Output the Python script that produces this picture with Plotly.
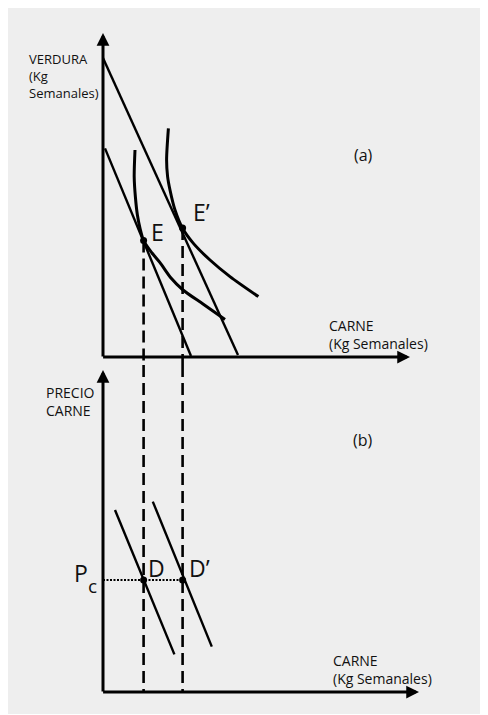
import plotly.graph_objects as go

# ---------------- data (units: carne kg, verdura kg, price) ----------------
# Panel (a): budget lines (endpoints) and indifference curves
budget_outer_x = [0.0, 6.75]
budget_outer_y = [14.95, 0.1]
budget_inner_x = [0.1, 4.4]
budget_inner_y = [10.43, 0.05]

ic1_x = [1.60, 1.56, 1.62, 1.72, 1.86, 2.03, 2.45, 2.85, 3.40, 4.00, 5.00, 6.10]
ic1_y = [10.35, 9.00, 8.00, 7.10, 6.40, 5.82, 5.20, 4.72, 3.95, 3.35, 2.65, 1.88]
ic2_x = [3.27, 3.18, 3.23, 3.35, 3.60, 3.97, 4.52, 5.35, 6.35, 7.77]
ic2_y = [11.43, 9.85, 9.02, 8.35, 7.35, 6.45, 5.68, 4.85, 4.02, 3.02]

eq_labels = ["E", "E’"]
eq_x = [2.03, 3.98]
eq_y = [5.82, 6.45]

# Panel (b): demand curves
dem_labels = ["D", "D’"]
dem1_x = [0.6, 3.57]
dem1_y = [9.1, 1.88]
dem2_x = [2.49, 5.44]
dem2_y = [9.52, 2.27]
price_c = 5.6

# axis extents (units)
a_xmax, a_ymax = 15.35, 16.2
b_xmax, b_ymax = 15.8, 16.1

W, H = 480, 706
XR = [-4.75, 19.25]
YA_R = [-0.4, 17.45]
YB_R = [-1.1, 16.35]
split = 1 - 357 / H

fig = go.Figure()
blk = "black"

def add(x, y, ax="x", ay="y", **kw):
    fig.add_trace(go.Scatter(x=x, y=y, xaxis=ax, yaxis=ay, mode="lines",
                             showlegend=False, hoverinfo="skip", **kw))

# panel a lines
add(budget_outer_x, budget_outer_y, line=dict(color=blk, width=2.4))
add(budget_inner_x, budget_inner_y, line=dict(color=blk, width=2.4))
add(ic1_x, ic1_y, line=dict(color=blk, width=3, shape="spline", smoothing=0.8))
add(ic2_x, ic2_y, line=dict(color=blk, width=3, shape="spline", smoothing=0.8))
for qx, qy in zip(eq_x, eq_y):
    add([qx, qx], [qy, YA_R[0]], line=dict(color=blk, width=2.6, dash="12px,6px"))
fig.add_trace(go.Scatter(x=eq_x, y=eq_y, mode="markers", showlegend=False,
                         marker=dict(color=blk, size=7), hoverinfo="skip"))

# panel b lines
for qx in eq_x:
    add([qx, qx], [YB_R[1], 0], ax="x2", ay="y2",
        line=dict(color=blk, width=2.6, dash="12px,6px"))
add(dem1_x, dem1_y, ax="x2", ay="y2", line=dict(color=blk, width=2.4))
add(dem2_x, dem2_y, ax="x2", ay="y2", line=dict(color=blk, width=2.4))
add([0, eq_x[1]], [price_c, price_c], ax="x2", ay="y2",
    line=dict(color=blk, width=2.2, dash="2px,1.5px"))
fig.add_trace(go.Scatter(x=eq_x, y=[price_c, price_c], xaxis="x2", yaxis="y2",
                         mode="markers", showlegend=False,
                         marker=dict(color=blk, size=7), hoverinfo="skip"))

ann = []
def arrow(x, y, tx, ty, xr, yr):
    ann.append(dict(x=x, y=y, ax=tx, ay=ty, xref=xr, yref=yr, axref=xr, ayref=yr,
                    text="", showarrow=True, arrowhead=2, arrowsize=0.85,
                    arrowwidth=3, arrowcolor=blk))

arrow(0, a_ymax, 0, -0.05, "x", "y")
arrow(a_xmax, 0, -0.07, 0, "x", "y")
arrow(0, b_ymax, 0, -0.05, "x2", "y2")
arrow(b_xmax, 0, -0.07, 0, "x2", "y2")

F = "Open Sans, sans-serif"
def txt(x, y, s, xr, yr, size=14, xanchor="left", yanchor="middle", family=F, align="left"):
    ann.append(dict(x=x, y=y, xref=xr, yref=yr, text=s, showarrow=False,
                    xanchor=xanchor, yanchor=yanchor, align=align,
                    font=dict(family=family, size=size, color="#111")))

txt(-0.12, 14.03, "VERDURA<br>(Kg<br>Semanales)", "x", "y", size=13, xanchor="right")
txt(11.18, 1.15, "CARNE<br>(Kg Semanales)", "x", "y")
txt(13.0, 10.1, "(a)", "x", "y", size=16, xanchor="center")
txt(2.3, 6.27, eq_labels[0], "x", "y", size=23)
txt(4.4, 7.27, eq_labels[1], "x", "y", size=23)

txt(-2.95, 14.55, "PRECIO<br>CARNE", "x2", "y2")
txt(11.4, 1.15, "CARNE<br>(Kg Semanales)", "x2", "y2")
txt(13.0, 12.6, "(b)", "x2", "y2", size=16, xanchor="center")
txt(2.15, 6.2, dem_labels[0], "x2", "y2", size=23)
txt(4.2, 6.2, dem_labels[1], "x2", "y2", size=23)
txt(-1.55, 5.93, "P", "x2", "y2", size=23)
txt(-0.85, 5.3, "c", "x2", "y2", size=19)

ax_common = dict(visible=False, fixedrange=True)
fig.update_layout(
    width=W, height=H,
    margin=dict(l=0, r=0, t=0, b=0),
    paper_bgcolor="#eeeeee",
    plot_bgcolor="rgba(0,0,0,0)",
    xaxis=dict(domain=[0, 1], range=XR, anchor="y", **ax_common),
    yaxis=dict(domain=[split, 1], range=YA_R, anchor="x", **ax_common),
    xaxis2=dict(domain=[0, 1], range=XR, anchor="y2", **ax_common),
    yaxis2=dict(domain=[0, split], range=YB_R, anchor="x2", **ax_common),
    annotations=ann,
)

fig.write_html("out.html", config={"displayModeBar": False})
